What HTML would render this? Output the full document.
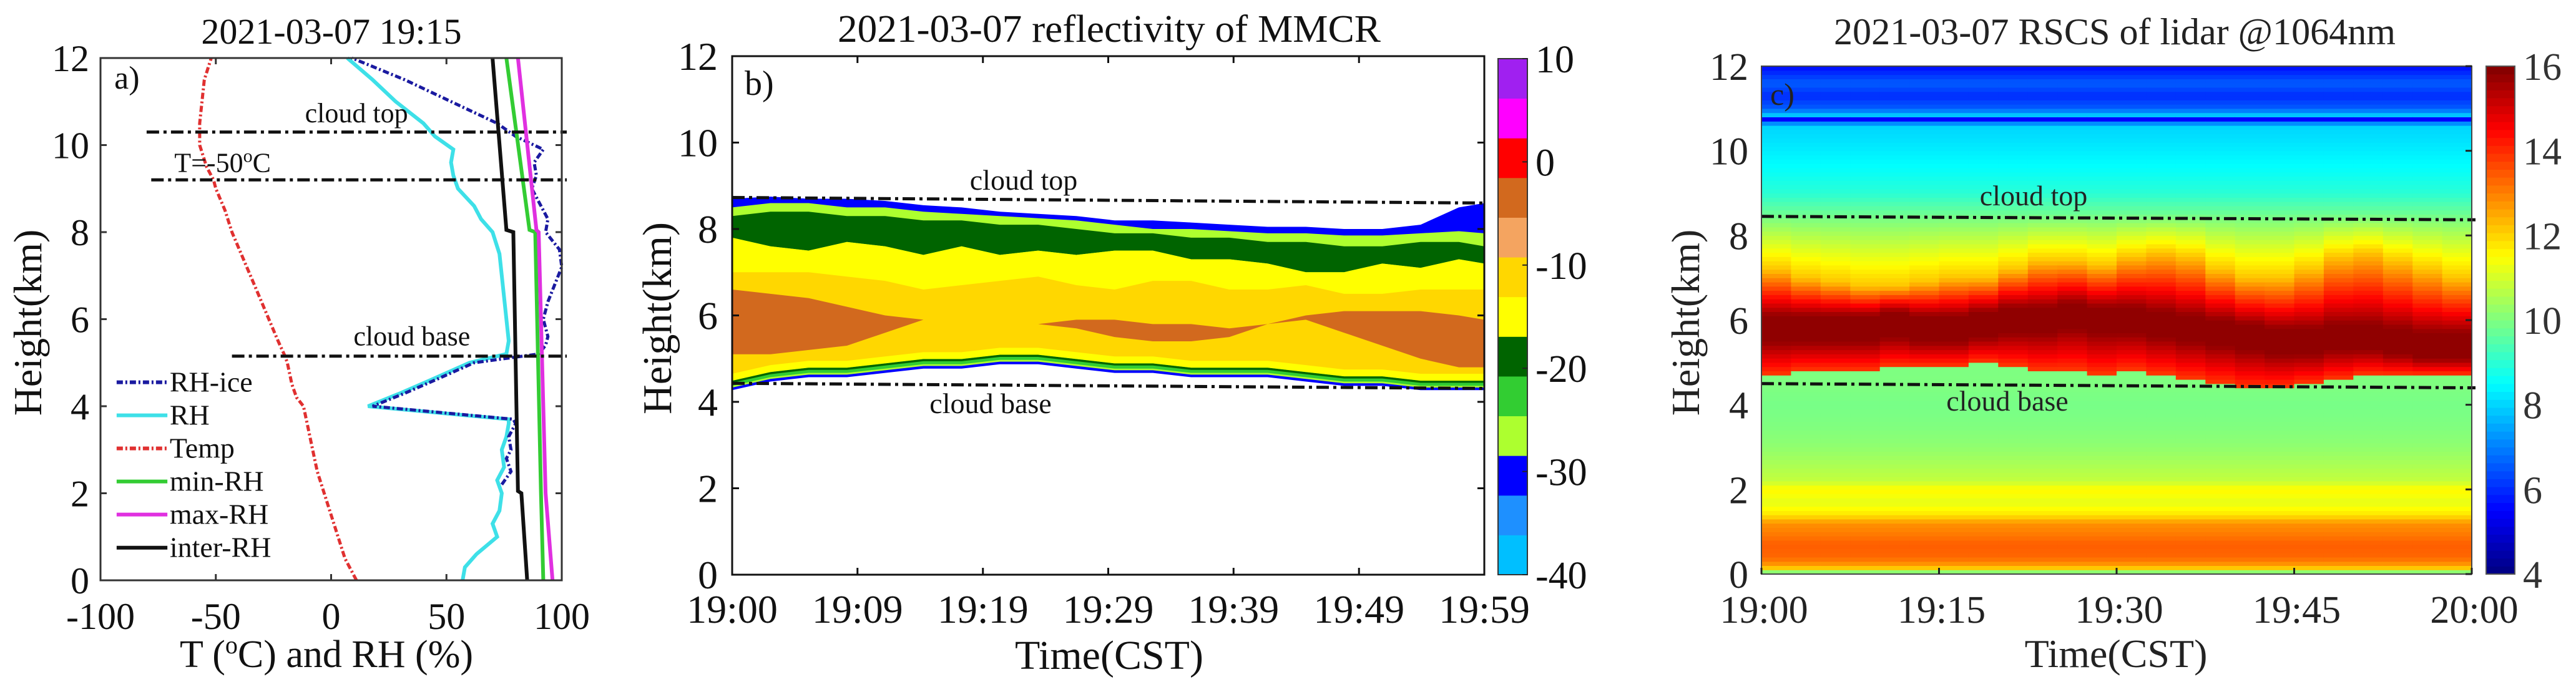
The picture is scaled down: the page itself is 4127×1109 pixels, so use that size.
<!DOCTYPE html>
<html><head><meta charset="utf-8"><style>
html,body{margin:0;padding:0;background:#fff;}
svg{display:block;font-family:"Liberation Serif",serif;}
</style></head><body>
<svg id="fig" xmlns="http://www.w3.org/2000/svg" width="4127" height="1109" viewBox="0 0 4127 1109">
<rect width="4127" height="1109" fill="#fff"/>
<g id="pa"></g>
<g id="pb"></g>
<g id="pc"></g>
</svg>
<script>
// ---------- Panel a data ----------
const tempH=[0,0.5,1,1.5,2,2.5,3,3.5,4,4.2,4.5,5,5.15,5.5,6,6.5,7,7.5,8,8.5,9,9.2,9.5,10,10.5,11,11.5,12];
const tempV=[11,6,3,0,-3,-6,-8,-10,-12,-15,-17,-19,-20,-23,-27,-31,-35,-39,-43,-46,-50,-51,-54,-57,-57,-56,-55,-52];
const rhH=[0,0.3,0.6,1,1.3,1.6,2,2.3,2.6,3,3.3,3.6,3.7,4.0,4.3,4.6,5.0,5.2,5.5,6,6.5,7,7.5,8,8.3,8.6,9,9.3,9.6,9.9,10.2,10.5,11,11.5,12];
const rhV=[57,58,63,72,70,73,74,72,75,74,76,77,77,16,30,43,60,76,77,76,75,74,73,70,65,62,55,53,52,53,45,40,28,18,7];
const iceH=[2.2,2.5,2.8,3,3.3,3.6,3.7,4.0,4.3,4.6,5.0,5.2,5.4,5.6,6,6.4,6.8,7.2,7.6,8,8.3,8.6,9,9.3,9.6,9.9,10.2,10.5,11,11.5,12];
const iceV=[74,78,76,78,77,80,79,18,32,45,62,90,93,94,92,94,97,100,99,93,94,91,87,89,88,92,80,72,52,32,9];
const minH=[0,2,8,8.05,12];
const minV=[92,91,88.5,86,76];
const maxH=[0,2,8,8.05,12];
const maxV=[96,93,90,89,81];
const intH=[0,2,2.05,8,8.05,12];
const intV=[85,82.5,81,79,76,70];
const aXTicks=[-100,-50,0,50,100];
const aYTicks=[0,2,4,6,8,10,12];
const aLines=[10.3,9.2,5.15];
const aLineStart=[-80,-78,-43];
// ---------- Panel b data ----------
const tB=[0,3,6,9,12,15,18,21,24,27,30,33,36,39,42,45,48,51,54,57,59];
const baseB=[4.4,4.6,4.7,4.7,4.8,4.9,4.9,5.0,5.0,4.9,4.8,4.8,4.7,4.7,4.7,4.6,4.5,4.5,4.4,4.4,4.4];
const topB=[8.7,8.75,8.7,8.7,8.65,8.55,8.5,8.4,8.35,8.3,8.2,8.2,8.15,8.1,8.05,8.05,8.0,8.0,8.1,8.5,8.6];
const lgTop=[8.5,8.6,8.6,8.5,8.5,8.4,8.35,8.3,8.25,8.2,8.1,8.0,8.0,7.95,7.9,7.9,7.85,7.85,7.9,7.95,7.9];
const dgTop=[8.3,8.4,8.4,8.3,8.3,8.2,8.2,8.1,8.1,8.0,7.9,7.9,7.8,7.8,7.7,7.7,7.6,7.6,7.7,7.7,7.6];
const dgBot=[7.8,7.6,7.5,7.7,7.6,7.4,7.6,7.4,7.5,7.4,7.5,7.5,7.3,7.3,7.2,7.0,7.0,7.2,7.1,7.3,7.2];
const goldTop=[7.0,7.0,7.0,6.9,6.8,6.6,6.7,6.8,6.9,6.7,6.6,6.8,6.8,6.6,6.6,6.7,6.5,6.5,6.6,6.6,6.6];
const brTop=[6.6,6.5,6.4,6.2,6.0,5.9,5.8,5.8,5.8,5.9,5.9,5.8,5.8,5.7,5.8,6.0,6.1,6.1,6.1,6.0,5.9];
const brBot=[5.1,5.1,5.2,5.3,5.6,5.9,5.8,5.8,5.8,5.7,5.5,5.4,5.4,5.5,5.8,5.9,5.6,5.3,5.0,4.8,4.8];
const bXTickVals=[0,9.83,19.67,29.5,39.33,49.17,59];
const bXTickLabels=["19:00","19:09","19:19","19:29","19:39","19:49","19:59"];
const bYTicks=[0,2,4,6,8,10,12];
const bCbColors=["#00BFFF","#1E90FF","#0000FF","#ADFF2F","#32CD32","#006400","#FFFF00","#FFD700","#F4A460","#D2691E","#FF0000","#FF00FF","#A020F0"];
const bCbTicks=[-40,-30,-20,-10,0,10];
const bTopLine=[8.73,8.6];
const bBaseLine=[4.43,4.31];
// ---------- Panel c data ----------
const profH=[0,0.08,0.2,0.4,0.7,1.0,1.2,1.4,1.7,2.0,2.2,2.6,3.0,3.5,4.0,4.5,8.5,9.0,9.5,10,10.6,10.75,10.85,11.0,11.3,11.6,12];
const profV=[8,11.5,12.6,13.3,13.4,13.0,12.8,11.8,11.2,11.6,10.8,10.5,10.2,10.0,9.9,10.0,9.8,9.0,8.6,8.3,8.0,5.5,7.8,6.6,6.0,6.6,5.6];
const cBase=[4.7,4.8,4.8,4.8,4.9,4.9,4.9,5.0,4.9,4.8,4.8,4.7,4.8,4.7,4.6,4.5,4.4,4.4,4.5,4.6,4.7,4.7,4.7,4.7];
const cCore=[5.8,5.8,5.8,5.8,5.9,5.8,5.8,5.9,6.0,6.0,6.1,6.0,6.0,5.9,5.8,5.7,5.6,5.5,5.5,5.6,5.6,5.5,5.4,5.4];
const cBright=[7.2,7.0,6.9,6.8,6.8,6.9,7.0,7.0,7.2,7.4,7.4,7.3,7.5,7.6,7.5,7.2,7.0,7.0,7.2,7.5,7.6,7.4,7.2,7.0];
const cXTickVals=[0,15,30,45,60];
const cXTickLabels=["19:00","19:15","19:30","19:45","20:00"];
const cYTicks=[0,2,4,6,8,10,12];
const cCbTicks=[4,6,8,10,12,14,16];
const cTopLine=[8.45,8.37];
const cBaseLine=[4.5,4.4];

const NS="http://www.w3.org/2000/svg";
function mk(tag,attrs,parent){const e=document.createElementNS(NS,tag);for(const k in attrs)e.setAttribute(k,attrs[k]);parent.appendChild(e);return e;}
function txt(s,x,y,fs,anchor,parent,extra){const e=mk("text",Object.assign({x:x,y:y,"font-size":fs,"text-anchor":anchor||"middle",fill:"#111"},extra||{}),parent);e.textContent=s;return e;}
const DD="20 7 5 7";

// ================= Panel a =================
(function(){
const g=document.getElementById("pa");
const L=161,R=900,T=93,B=930;
const X=v=>L+(v+100)/200*(R-L), Y=h=>B-h/12*(B-T);
function line(H,V,color,w,dash,name){
  const p=H.map((h,i)=>X(V[i]).toFixed(1)+","+Y(h).toFixed(1)).join(" ");
  const e=mk("polyline",{points:p,fill:"none",stroke:color,"stroke-width":w,"stroke-dasharray":dash||"none"},g);
  
  
}
line(tempH,tempV,"#e03030",5,"10 4 3 4","temp-line");
line(rhH,rhV,"#3ee0e8",6,null,"rh-line");
line(iceH,iceV,"#1a1aa0",5,"10 4 3 4","rh-ice-line");
line(minH,minV,"#33cc33",6,null,"min-rh-line");
line(maxH,maxV,"#e030e0",6,null,"max-rh-line");
line(intH,intV,"#111",6,null,"inter-rh-line");
aLines.forEach((h,i)=>{
  const e=mk("line",{x1:X(aLineStart[i]),x2:X(100)+8,y1:Y(h),y2:Y(h),stroke:"#111","stroke-width":5,"stroke-dasharray":DD},g);
  
  
});
const t1=txt("cloud top",X(11),Y(10.52),44,"middle",g);


const t2=txt("",X(-68),Y(9.38),44,"start",g);
t2.innerHTML='T=-50<tspan dy="-16" font-size="30">o</tspan><tspan dy="16">C</tspan>';


const t3=txt("cloud base",X(35),Y(5.4),44,"middle",g);


const t4=txt("a)",X(-94),Y(11.3),52,"start",g);


const leg=[["RH-ice","#1a1aa0","10 4 3 4"],["RH","#3ee0e8",null],["Temp","#e03030","10 4 3 4"],["min-RH","#33cc33",null],["max-RH","#e030e0",null],["inter-RH","#111",null]];
const lg=mk("g",{},g);


leg.forEach((d,i)=>{
  const y=Y(4.55-i*0.76);
  const l=mk("line",{x1:X(-93),x2:X(-71),y1:y,y2:y,stroke:d[1],"stroke-width":6,"stroke-dasharray":d[2]||"none"},lg);
  
  
  const t=txt(d[0],X(-70),y+15,46,"start",lg);
  
  
});
const fr=mk("rect",{x:L,y:T,width:R-L,height:B-T,fill:"none",stroke:"#333","stroke-width":3},g);


aXTicks.forEach(v=>{
  mk("line",{x1:X(v),x2:X(v),y1:B,y2:B-10,stroke:"#333","stroke-width":3},g);
  mk("line",{x1:X(v),x2:X(v),y1:T,y2:T+10,stroke:"#333","stroke-width":3},g);
  const t=txt(String(v),X(v),1008,60,"middle",g);
  
  
});
aYTicks.forEach(v=>{
  mk("line",{x1:L,x2:L+10,y1:Y(v),y2:Y(v),stroke:"#333","stroke-width":3},g);
  mk("line",{x1:R,x2:R-10,y1:Y(v),y2:Y(v),stroke:"#333","stroke-width":3},g);
  const t=txt(String(v),143,Y(v)+21,60,"end",g);
  
  
});
const ti=txt("2021-03-07 19:15",531,70,58,"middle",g);


const xl=txt("",523,1069,62,"middle",g);
xl.innerHTML='T (<tspan dy="-22" font-size="40">o</tspan><tspan dy="22">C) and RH (%)</tspan>';


const yl=txt("Height(km)",0,0,64,"middle",g,{transform:"translate(66,517) rotate(-90)"});


})();

// ================= Panel b =================
(function(){
const g=document.getElementById("pb");
const L=1173,R=2378,T=90,B=921;
const X=t=>L+t/59*(R-L), Y=h=>B-h/12*(B-T);
function band(lo,hi,color,name){
  const pts=[];
  tB.forEach((t,i)=>pts.push(X(t).toFixed(1)+","+Y(hi[i]).toFixed(1)));
  for(let i=tB.length-1;i>=0;i--)pts.push(X(tB[i]).toFixed(1)+","+Y(lo[i]).toFixed(1));
  const e=mk("polygon",{points:pts.join(" "),fill:color},g);
  
  
}
const off=(a,d)=>a.map(v=>v+d);
band(off(baseB,-0.13),topB,"#0000FF","echo-blue");
band(off(baseB,-0.07),lgTop,"#ADFF2F","echo-greenyellow");
band(off(baseB,-0.03),off(baseB,0.12),"#32CD32","echo-limegreen-base");
band(off(baseB,0.04),off(baseB,0.09),"#006400","echo-darkgreen-base");
band(dgBot,dgTop,"#006400","echo-darkgreen-top");
band(off(baseB,0.09),dgBot,"#FFFF00","echo-yellow");
band(off(baseB,0.25),goldTop,"#FFD700","echo-gold");
band(brBot,brTop,"#D2691E","echo-brown");
[[bTopLine,"cloud-top-line"],[bBaseLine,"cloud-base-line"]].forEach(d=>{
  const e=mk("line",{x1:L,x2:R+4,y1:Y(d[0][0]),y2:Y(d[0][1]),stroke:"#111","stroke-width":5,"stroke-dasharray":DD},g);
  
  
});
const t1=txt("cloud top",1640,304,46,"middle",g);


const t2=txt("cloud base",1587,662,46,"middle",g);


const t3=txt("b)",1193,152,56,"start",g);


const fr=mk("rect",{x:L,y:T,width:R-L,height:B-T,fill:"none",stroke:"#111","stroke-width":3},g);


bXTickVals.forEach((v,i)=>{
  mk("line",{x1:X(v),x2:X(v),y1:B,y2:B-11,stroke:"#111","stroke-width":3},g);
  mk("line",{x1:X(v),x2:X(v),y1:T,y2:T+11,stroke:"#111","stroke-width":3},g);
  const t=txt(bXTickLabels[i],X(v),998,64,"middle",g);
  
  
});
bYTicks.forEach(v=>{
  mk("line",{x1:L,x2:L+11,y1:Y(v),y2:Y(v),stroke:"#111","stroke-width":3},g);
  mk("line",{x1:R,x2:R-11,y1:Y(v),y2:Y(v),stroke:"#111","stroke-width":3},g);
  const t=txt(String(v),1150,Y(v)+22,64,"end",g);
  
  
});
const cL=2400,cR=2447,cT=94,cB=921;
const CY=v=>cB-(v+40)/50*(cB-cT);
const step=50/bCbColors.length;
bCbColors.forEach((c,i)=>{
  const y1=CY(-40+(i+1)*step), y0=CY(-40+i*step);
  const r=mk("rect",{x:cL,y:y1,width:cR-cL,height:y0-y1+0.5,fill:c},g);
  
  
});
const cf=mk("rect",{x:cL,y:cT,width:cR-cL,height:cB-cT,fill:"none",stroke:"#333","stroke-width":2},g);


bCbTicks.forEach(v=>{
  mk("line",{x1:cR,x2:cR-8,y1:CY(v),y2:CY(v),stroke:"#222","stroke-width":2},g);
  const t=txt(String(v),2460,CY(v)+22,62,"start",g);
  
  
});
const ti=txt("2021-03-07 reflectivity of MMCR",1777,67,62,"middle",g,{textLength:870,lengthAdjust:"spacingAndGlyphs"});


const xl=txt("Time(CST)",1777,1072,66,"middle",g);


const yl=txt("Height(km)",0,0,66,"middle",g,{transform:"translate(1075,510) rotate(-90)"});


})();

// ================= Panel c =================
(function(){
const g=document.getElementById("pc");
const L=2822,R=3960,T=106,B=920;
const X=t=>L+t/60*(R-L), Y=h=>B-h/12*(B-T);
function jet(v){const x=Math.max(0,Math.min(1,(v-4)/12));const f=a=>Math.round(255*Math.max(0,Math.min(1,1.5-Math.abs(4*x-a))));return "rgb("+f(3)+","+f(2)+","+f(1)+")";}
function prof(h){for(let i=1;i<profH.length;i++){if(h<=profH[i]){const a=(h-profH[i-1])/(profH[i]-profH[i-1]);return profV[i-1]+a*(profV[i]-profV[i-1]);}}return profV[profV.length-1];}
function val(h,c){
  const b=cBase[c],co=cCore[c],br=cBright[c];
  if(h<b||h>8.5)return prof(h);
  if(h<co-0.3)return 13.8+(h-b)/Math.max(0.1,co-0.3-b)*2.0;
  if(h<=co+0.3)return 15.8;
  if(h<br)return 15.8-(h-co-0.3)/Math.max(0.1,br-co-0.3)*3.6;
  return 12.2-(h-br)/Math.max(0.1,8.5-br)*2.4;
}
const nc=cBase.length, nr=120, cw=(R-L)/nc, rh=(B-T)/nr;
const hm=mk("g",{},g);


for(let c=0;c<nc;c++){
  for(let r=0;r<nr;r++){
    const h=(r+0.5)*0.1;
    const e=mk("rect",{x:(L+c*cw).toFixed(1),y:(Y((r+1)*0.1)).toFixed(1),width:(cw+0.6).toFixed(1),height:(rh+0.6).toFixed(1),fill:jet(val(h,c))},hm);
    
    
  }
}
[[cTopLine,"cloud-top-line"],[cBaseLine,"cloud-base-line"]].forEach(d=>{
  const e=mk("line",{x1:L,x2:R+6,y1:Y(d[0][0]),y2:Y(d[0][1]),stroke:"#111","stroke-width":5,"stroke-dasharray":DD},g);
  
  
});
const t1=txt("cloud top",3258,329,46,"middle",g,{fill:"#222"});


const t2=txt("cloud base",3216,658,46,"middle",g,{fill:"#222"});


const t3=txt("c)",2836,168,50,"start",g,{fill:"#222"});


const fr=mk("rect",{x:L,y:T,width:R-L,height:B-T,fill:"none",stroke:"#444","stroke-width":2},g);


cXTickVals.forEach((v,i)=>{
  mk("line",{x1:X(v),x2:X(v),y1:B,y2:B-10,stroke:"#222","stroke-width":3},g);
  const t=txt(cXTickLabels[i],X(v)+4,998,62,"middle",g,{fill:"#222"});
  
  
});
cYTicks.forEach(v=>{
  mk("line",{x1:R,x2:R-10,y1:Y(v),y2:Y(v),stroke:"#222","stroke-width":3},g);
  const t=txt(String(v),2801,Y(v)+22,62,"end",g,{fill:"#222"});
  
  
});
const cL=3983,cR=4029,cT=106,cB=920;
const CY=v=>cB-(v-4)/12*(cB-cT);
const cbg=mk("g",{},g);


for(let i=0;i<64;i++){
  const v0=4+i*12/64,v1=4+(i+1)*12/64;
  const r=mk("rect",{x:cL,y:CY(v1),width:cR-cL,height:CY(v0)-CY(v1)+0.6,fill:jet((v0+v1)/2)},cbg);
  
  
}
mk("rect",{x:cL,y:cT,width:cR-cL,height:cB-cT,fill:"none",stroke:"#555","stroke-width":2},g);
cCbTicks.forEach(v=>{
  const t=txt(String(v),4042,CY(v)+22,62,"start",g,{fill:"#333"});
  
  
});
const ti=txt("2021-03-07 RSCS of lidar @1064nm",3388,71,60,"middle",g,{fill:"#222",textLength:900,lengthAdjust:"spacingAndGlyphs"});


const xl=txt("Time(CST)",3390,1069,64,"middle",g,{fill:"#222"});


const yl=txt("Height(km)",0,0,64,"middle",g,{fill:"#222",transform:"translate(2722,517) rotate(-90)"});


})();
</script>
</body></html>
